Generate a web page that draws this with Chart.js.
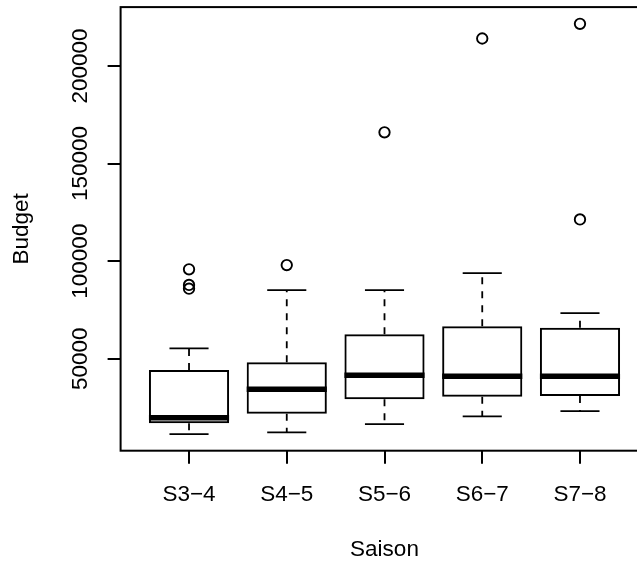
<!DOCTYPE html>
<html>
<head>
<meta charset="utf-8">
<script src="https://cdn.jsdelivr.net/npm/chart.js@4/dist/chart.umd.min.js"></script>
<style>
  html, body { margin: 0; padding: 0; overflow: hidden; background: #fff; }
</style>
</head>
<body>
<canvas id="myChart" width="660" height="563"></canvas>
<script>
// boxplot of budget per season
const categories = ['S3\u22124', 'S4\u22125', 'S5\u22126', 'S6\u22127', 'S7\u22128']
const whiskerLow = [11400, 12300, 16500, 20500, 23200]
const q1 = [16900, 21800, 29200, 30500, 30900]
const medians = [19800, 34300, 41500, 41000, 41000]
const q3 = [44200, 48200, 62500, 66700, 65900]
const whiskerHigh = [55300, 85200, 85200, 93900, 73400]
const outliers = [
    [85900, 87800, 95800],
    [98000],
    [166000],
    [214100],
    [121400, 221600],
]
const yTicks = [50000, 100000, 150000, 200000]

const FONT = '"Liberation Sans", Arial, Helvetica, sans-serif'
const FS = 22.5

const boxData = categories.map((c, i) => ({ x: i + 1, y: [q1[i], q3[i]] }))
const outlierData = []
outliers.forEach((list, i) => list.forEach(v => outlierData.push({ x: i + 1, y: v })))

// whiskers, medians, frame and rotated y labels
const boxExtras = {
    id: 'boxExtras',
    afterDatasetsDraw(chart) {
        const { ctx, chartArea, scales: { x, y } } = chart
        ctx.save()
        ctx.strokeStyle = '#000'
        ctx.fillStyle = '#000'
        categories.forEach((c, i) => {
            const cx = x.getPixelForValue(i + 1)
            const capL = x.getPixelForValue(i + 1 - 0.2)
            const capR = x.getPixelForValue(i + 1 + 0.2)
            ctx.lineWidth = 1.8
            ctx.setLineDash([7, 7])
            ctx.beginPath()
            ctx.moveTo(cx, y.getPixelForValue(q3[i]))
            ctx.lineTo(cx, y.getPixelForValue(whiskerHigh[i]))
            ctx.moveTo(cx, y.getPixelForValue(q1[i]))
            ctx.lineTo(cx, y.getPixelForValue(whiskerLow[i]))
            ctx.stroke()
            ctx.setLineDash([])
            ctx.beginPath()
            ctx.moveTo(capL, y.getPixelForValue(whiskerHigh[i]))
            ctx.lineTo(capR, y.getPixelForValue(whiskerHigh[i]))
            ctx.moveTo(capL, y.getPixelForValue(whiskerLow[i]))
            ctx.lineTo(capR, y.getPixelForValue(whiskerLow[i]))
            ctx.stroke()
            ctx.lineWidth = 5.5
            ctx.beginPath()
            ctx.moveTo(x.getPixelForValue(i + 1 - 0.41), y.getPixelForValue(medians[i]))
            ctx.lineTo(x.getPixelForValue(i + 1 + 0.41), y.getPixelForValue(medians[i]))
            ctx.stroke()
        })
        ctx.lineWidth = 2
        ctx.strokeRect(chartArea.left, chartArea.top, chartArea.right - chartArea.left, chartArea.bottom - chartArea.top)

        ctx.font = FS + 'px ' + FONT
        ctx.textAlign = 'center'
        ctx.textBaseline = 'alphabetic'
        y.ticks.forEach(t => {
            ctx.save()
            ctx.translate(chartArea.left - 34, y.getPixelForValue(t.value))
            ctx.rotate(-Math.PI / 2)
            ctx.fillText(String(t.value), 0, 0)
            ctx.restore()
        })
        ctx.restore()
    }
}

const config = {
    type: 'bar',
    data: {
        datasets: [{
            type: 'bar',
            data: boxData,
            backgroundColor: 'rgba(255,255,255,0)',
            borderColor: '#000',
            borderWidth: 2,
            borderSkipped: false,
            barPercentage: 0.82,
            categoryPercentage: 1,
        }, {
            type: 'scatter',
            data: outlierData,
            pointStyle: 'circle',
            pointRadius: 5.2,
            pointBorderWidth: 1.9,
            pointBorderColor: '#000',
            pointBackgroundColor: 'rgba(255,255,255,0)',
            showLine: false,
        }]
    },
    options: {
        responsive: false,
        animation: false,
        layout: { padding: { top: 7, right: 11.6, left: 0, bottom: 0 } },
        plugins: { legend: { display: false }, tooltip: { enabled: false } },
        scales: {
            x: {
                type: 'linear',
                min: 0.3,
                max: 5.7,
                offset: false,
                afterBuildTicks: s => { s.ticks = categories.map((c, i) => ({ value: i + 1 })) },
                afterFit: s => { s.height = 112.3 },
                ticks: {
                    autoSkip: false,
                    maxRotation: 0,
                    padding: 18,
                    color: '#000',
                    font: { family: FONT, size: FS },
                    callback: v => categories[v - 1],
                },
                grid: { offset: false, drawOnChartArea: false, drawTicks: true, tickLength: 13, color: '#000', lineWidth: 2 },
                border: { display: false },
                title: { display: true, text: 'Saison', color: '#000', font: { family: FONT, size: FS }, padding: { top: 0, bottom: 0 } },
            },
            y: {
                type: 'linear',
                position: 'left',
                min: 2870,
                max: 230180,
                afterBuildTicks: s => { s.ticks = yTicks.map(v => ({ value: v })) },
                afterFit: s => { s.width = 120.6 },
                ticks: { display: false },
                grid: { drawOnChartArea: false, drawTicks: true, tickLength: 13, color: '#000', lineWidth: 2 },
                border: { display: false },
                title: { display: true, text: 'Budget', color: '#000', font: { family: FONT, size: FS }, padding: { top: 8.5, bottom: 0 } },
            }
        }
    },
    plugins: [boxExtras]
}

const myChart = new Chart(document.getElementById('myChart').getContext('2d'), config)
</script>
</body>
</html>
